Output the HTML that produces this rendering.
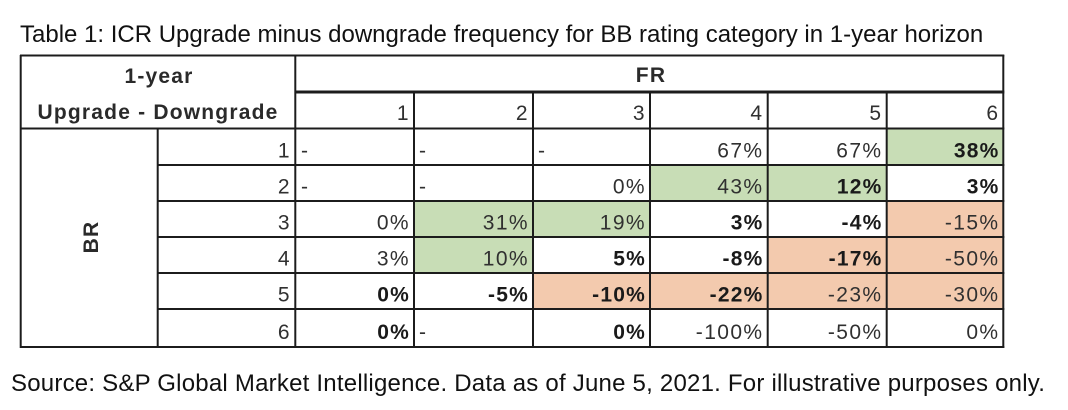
<!DOCTYPE html>
<html>
<head>
<meta charset="utf-8">
<style>
  html,body{margin:0;padding:0;background:#fff;}
  svg{display:block;}
  text{font-family:"Liberation Sans", Arial, sans-serif;}
  .t{font-size:24px;fill:#111;}
  .s{font-size:24px;fill:#111;letter-spacing:0.22px;}
  .c{font-size:21px;fill:#303030;letter-spacing:1.4px;}
  .b{font-size:21px;fill:#1a1a1a;font-weight:bold;letter-spacing:1.2px;}
  .h{font-size:21px;fill:#2a2a2a;font-weight:bold;letter-spacing:1.2px;}
</style>
</head>
<body>
<svg width="1068" height="410" viewBox="0 0 1068 410" xmlns="http://www.w3.org/2000/svg">
  <rect x="0" y="0" width="1068" height="410" fill="#fff"/>
  <text class="t" x="20" y="42">Table 1: ICR Upgrade minus downgrade frequency for BB rating category in 1-year horizon</text>

  <!-- fills -->
  <g fill="#C8DDB6">
    <rect x="886.7" y="128.5" width="116.6" height="36.5"/>
    <rect x="650" y="165" width="117.7" height="36"/>
    <rect x="767.7" y="165" width="119" height="36"/>
    <rect x="414" y="201" width="119" height="36"/>
    <rect x="533" y="201" width="117" height="36"/>
    <rect x="414" y="237" width="119" height="36"/>
  </g>
  <g fill="#F3CAAE">
    <rect x="886.7" y="201" width="116.6" height="36"/>
    <rect x="767.7" y="237" width="119" height="36"/>
    <rect x="886.7" y="237" width="116.6" height="36"/>
    <rect x="533" y="273" width="117" height="36"/>
    <rect x="650" y="273" width="117.7" height="36"/>
    <rect x="767.7" y="273" width="119" height="36"/>
    <rect x="886.7" y="273" width="116.6" height="36"/>
  </g>

  <!-- grid lines -->
  <g stroke="#1c1c1c" stroke-width="2" fill="none">
    <line x1="20" y1="55.5" x2="1004.3" y2="55.5"/>
    <line x1="295.3" y1="92" x2="1004.3" y2="92" stroke-width="3"/>
    <line x1="20" y1="128.5" x2="1004.3" y2="128.5"/>
    <line x1="157.7" y1="165" x2="1004.3" y2="165"/>
    <line x1="157.7" y1="201" x2="1004.3" y2="201"/>
    <line x1="157.7" y1="237" x2="1004.3" y2="237"/>
    <line x1="157.7" y1="273" x2="1004.3" y2="273"/>
    <line x1="157.7" y1="309" x2="1004.3" y2="309"/>
    <line x1="20" y1="347" x2="1004.3" y2="347"/>

    <line x1="20.7" y1="55" x2="20.7" y2="348"/>
    <line x1="157.7" y1="128" x2="157.7" y2="348"/>
    <line x1="295.3" y1="55" x2="295.3" y2="348"/>
    <line x1="414" y1="92" x2="414" y2="348"/>
    <line x1="533" y1="92" x2="533" y2="348"/>
    <line x1="650" y1="92" x2="650" y2="348"/>
    <line x1="767.7" y1="92" x2="767.7" y2="348"/>
    <line x1="886.7" y1="92" x2="886.7" y2="348"/>
    <line x1="1003.3" y1="55" x2="1003.3" y2="348"/>
  </g>

  <!-- header -->
  <text class="h" x="159" y="83" text-anchor="middle">1-year</text>
  <text class="h" x="158" y="119" text-anchor="middle">Upgrade - Downgrade</text>
  <text class="h" x="651" y="82" text-anchor="middle">FR</text>

  <g class="c" text-anchor="end">
    <text x="410" y="120">1</text>
    <text x="529" y="120">2</text>
    <text x="646" y="120">3</text>
    <text x="763.5" y="120">4</text>
    <text x="882.5" y="120">5</text>
    <text x="999.5" y="120">6</text>

    <text x="291" y="157.5">1</text>
    <text x="291" y="193.5">2</text>
    <text x="291" y="229.5">3</text>
    <text x="291" y="265.5">4</text>
    <text x="291" y="301.5">5</text>
    <text x="291" y="339">6</text>
  </g>

  <text class="h" transform="translate(98,237) rotate(-90)" text-anchor="middle">BR</text>

  <!-- row 1 -->
  <g class="c">
    <text x="301" y="157.5">-</text>
    <text x="419" y="157.5">-</text>
    <text x="538" y="157.5">-</text>
    <text x="763.5" y="157.5" text-anchor="end">67%</text>
    <text x="882.5" y="157.5" text-anchor="end">67%</text>
  </g>
  <text class="b" x="999.5" y="157.5" text-anchor="end">38%</text>

  <!-- row 2 -->
  <g class="c">
    <text x="301" y="193.5">-</text>
    <text x="419" y="193.5">-</text>
    <text x="646" y="193.5" text-anchor="end">0%</text>
    <text x="763.5" y="193.5" text-anchor="end">43%</text>
  </g>
  <text class="b" x="882.5" y="193.5" text-anchor="end">12%</text>
  <text class="b" x="999.5" y="193.5" text-anchor="end">3%</text>

  <!-- row 3 -->
  <g class="c" text-anchor="end">
    <text x="410" y="229.5">0%</text>
    <text x="529" y="229.5">31%</text>
    <text x="646" y="229.5">19%</text>
    <text x="999.5" y="229.5">-15%</text>
  </g>
  <g class="b" text-anchor="end">
    <text x="763.5" y="229.5">3%</text>
    <text x="882.5" y="229.5">-4%</text>
  </g>

  <!-- row 4 -->
  <g class="c" text-anchor="end">
    <text x="410" y="265.5">3%</text>
    <text x="529" y="265.5">10%</text>
    <text x="999.5" y="265.5">-50%</text>
  </g>
  <g class="b" text-anchor="end">
    <text x="646" y="265.5">5%</text>
    <text x="763.5" y="265.5">-8%</text>
    <text x="882.5" y="265.5">-17%</text>
  </g>

  <!-- row 5 -->
  <g class="b" text-anchor="end">
    <text x="410" y="301.5">0%</text>
    <text x="529" y="301.5">-5%</text>
    <text x="646" y="301.5">-10%</text>
    <text x="763.5" y="301.5">-22%</text>
  </g>
  <g class="c" text-anchor="end">
    <text x="882.5" y="301.5">-23%</text>
    <text x="999.5" y="301.5">-30%</text>
  </g>

  <!-- row 6 -->
  <g class="b" text-anchor="end">
    <text x="410" y="339">0%</text>
    <text x="646" y="339">0%</text>
  </g>
  <g class="c">
    <text x="419" y="339">-</text>
    <text x="763.5" y="339" text-anchor="end">-100%</text>
    <text x="882.5" y="339" text-anchor="end">-50%</text>
    <text x="999.5" y="339" text-anchor="end">0%</text>
  </g>

  <text class="s" x="11" y="391">Source: S&amp;P Global Market Intelligence. Data as of June 5, 2021. For illustrative purposes only.</text>
</svg>
</body>
</html>
